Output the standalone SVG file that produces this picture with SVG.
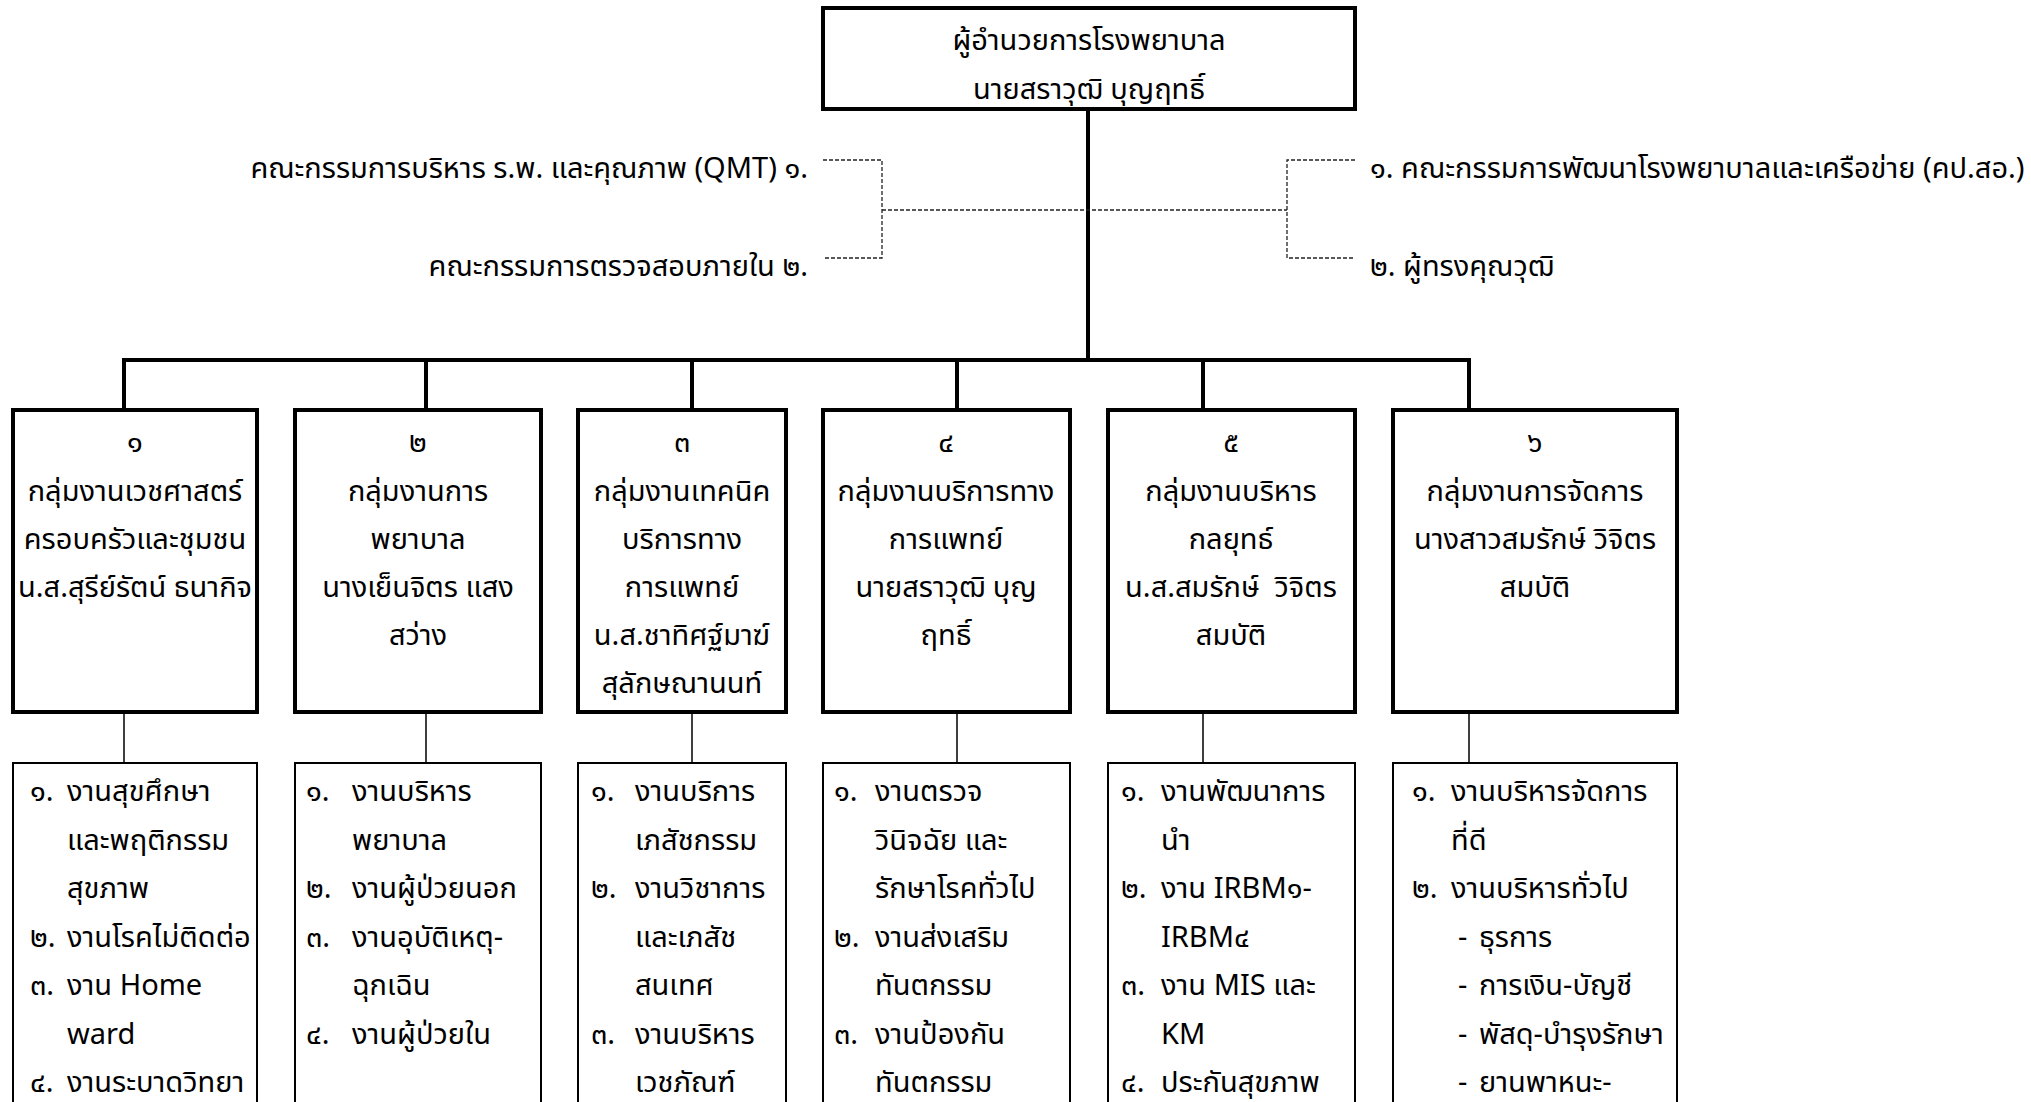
<svg xmlns="http://www.w3.org/2000/svg" width="2031" height="1102" viewBox="0 0 2031 1102">
<style>
text{font-family:"Noto Sans Thai","Leelawadee UI","Noto Sans","DejaVu Sans",sans-serif;font-size:29px;fill:#000}
.c{text-anchor:middle}
.e{text-anchor:end}
.box{fill:#fff;stroke:#000;stroke-width:4}
.sub{fill:#fff;stroke:#000;stroke-width:2}
.thick{fill:none;stroke:#000;stroke-width:4}
.thin{fill:none;stroke:#000;stroke-width:1.5}
.dash{fill:none;stroke:#222;stroke-width:1.3;stroke-dasharray:4 2}
</style>
<rect width="2031" height="1102" fill="#fff"/>
<g id="connectors">
<path class="thick" d="M1088 109V360M122 360H1471M124 360V410M426 360V410M692 360V410M957 360V410M1203 360V410M1469 360V410"/>
<path class="thin" d="M124 712V763M426 712V763M692 712V763M957 712V763M1203 712V763M1469 712V763"/>
<path class="dash" d="M823 160H882V258H823M882 210H1287M1355 160H1287V258H1355"/>
</g>
<g id="director">
<rect class="box" x="823" y="8" width="532" height="101"/>
<text class="c" x="1089" y="50">ผู้อำนวยการโรงพยาบาล</text>
<text class="c" x="1089" y="99">นายสราวุฒิ บุญฤทธิ์</text>
</g>
<g id="committee-left">
<text class="e" x="808" y="178">คณะกรรมการบริหาร ร.พ. และคุณภาพ (QMT) ๑.</text>
<text class="e" x="808" y="276">คณะกรรมการตรวจสอบภายใน ๒.</text>
</g>
<g id="committee-right">
<text x="1370" y="178">๑. คณะกรรมการพัฒนาโรงพยาบาลและเครือข่าย (คป.สอ.)</text>
<text x="1370" y="276">๒. ผู้ทรงคุณวุฒิ</text>
</g>
<g id="group1">
<rect class="box" x="13" y="410" width="244" height="302"/>
<text class="c" x="135" y="452">๑</text>
<text class="c" x="135" y="501">กลุ่มงานเวชศาสตร์</text>
<text class="c" x="135" y="549">ครอบครัวและชุมชน</text>
<text class="c" x="135" y="597">น.ส.สุรีย์รัตน์ ธนากิจ</text>
</g>
<g id="group2">
<rect class="box" x="295" y="410" width="246" height="302"/>
<text class="c" x="418" y="452">๒</text>
<text class="c" x="418" y="501">กลุ่มงานการ</text>
<text class="c" x="418" y="549">พยาบาล</text>
<text class="c" x="418" y="597">นางเย็นจิตร แสง</text>
<text class="c" x="418" y="645">สว่าง</text>
</g>
<g id="group3">
<rect class="box" x="578" y="410" width="208" height="302"/>
<text class="c" x="682" y="452">๓</text>
<text class="c" x="682" y="501">กลุ่มงานเทคนิค</text>
<text class="c" x="682" y="549">บริการทาง</text>
<text class="c" x="682" y="597">การแพทย์</text>
<text class="c" x="682" y="645">น.ส.ชาทิศฐ์มาฆ์</text>
<text class="c" x="682" y="693">สุลักษณานนท์</text>
</g>
<g id="group4">
<rect class="box" x="823" y="410" width="247" height="302"/>
<text class="c" x="946" y="452">๔</text>
<text class="c" x="946" y="501">กลุ่มงานบริการทาง</text>
<text class="c" x="946" y="549">การแพทย์</text>
<text class="c" x="946" y="597">นายสราวุฒิ บุญ</text>
<text class="c" x="946" y="645">ฤทธิ์</text>
</g>
<g id="group5">
<rect class="box" x="1108" y="410" width="247" height="302"/>
<text class="c" x="1231" y="452">๕</text>
<text class="c" x="1231" y="501">กลุ่มงานบริหาร</text>
<text class="c" x="1231" y="549">กลยุทธ์</text>
<text class="c" x="1231" y="597" xml:space="preserve">น.ส.สมรักษ์  วิจิตร</text>
<text class="c" x="1231" y="645">สมบัติ</text>
</g>
<g id="group6">
<rect class="box" x="1393" y="410" width="284" height="302"/>
<text class="c" x="1535" y="452">๖</text>
<text class="c" x="1535" y="501">กลุ่มงานการจัดการ</text>
<text class="c" x="1535" y="549">นางสาวสมรักษ์ วิจิตร</text>
<text class="c" x="1535" y="597">สมบัติ</text>
</g>
<g id="tasks1">
<rect class="sub" x="13" y="763" width="244" height="360"/>
<text x="30" y="801">๑.</text><text x="67" y="801">งานสุขศึกษา</text>
<text x="67" y="850">และพฤติกรรม</text>
<text x="67" y="898">สุขภาพ</text>
<text x="30" y="947">๒.</text><text x="67" y="947">งานโรคไม่ติดต่อ</text>
<text x="30" y="995">๓.</text><text x="67" y="995">งาน Home</text>
<text x="67" y="1044">ward</text>
<text x="30" y="1092">๔.</text><text x="67" y="1092">งานระบาดวิทยา</text>
</g>
<g id="tasks2">
<rect class="sub" x="295" y="763" width="246" height="360"/>
<text x="306" y="801">๑.</text><text x="352" y="801">งานบริหาร</text>
<text x="352" y="850">พยาบาล</text>
<text x="306" y="898">๒.</text><text x="352" y="898">งานผู้ป่วยนอก</text>
<text x="306" y="947">๓.</text><text x="352" y="947">งานอุบัติเหตุ-</text>
<text x="352" y="995">ฉุกเฉิน</text>
<text x="306" y="1044">๔.</text><text x="352" y="1044">งานผู้ป่วยใน</text>
</g>
<g id="tasks3">
<rect class="sub" x="578" y="763" width="208" height="360"/>
<text x="591" y="801">๑.</text><text x="635" y="801">งานบริการ</text>
<text x="635" y="850">เภสัชกรรม</text>
<text x="591" y="898">๒.</text><text x="635" y="898">งานวิชาการ</text>
<text x="635" y="947">และเภสัช</text>
<text x="635" y="995">สนเทศ</text>
<text x="591" y="1044">๓.</text><text x="635" y="1044">งานบริหาร</text>
<text x="635" y="1092">เวชภัณฑ์</text>
</g>
<g id="tasks4">
<rect class="sub" x="823" y="763" width="247" height="360"/>
<text x="834" y="801">๑.</text><text x="875" y="801">งานตรวจ</text>
<text x="875" y="850">วินิจฉัย และ</text>
<text x="875" y="898">รักษาโรคทั่วไป</text>
<text x="834" y="947">๒.</text><text x="875" y="947">งานส่งเสริม</text>
<text x="875" y="995">ทันตกรรม</text>
<text x="834" y="1044">๓.</text><text x="875" y="1044">งานป้องกัน</text>
<text x="875" y="1092">ทันตกรรม</text>
</g>
<g id="tasks5">
<rect class="sub" x="1108" y="763" width="247" height="360"/>
<text x="1121" y="801">๑.</text><text x="1161" y="801">งานพัฒนาการ</text>
<text x="1161" y="850">นำ</text>
<text x="1121" y="898">๒.</text><text x="1161" y="898">งาน IRBM๑-</text>
<text x="1161" y="947">IRBM๔</text>
<text x="1121" y="995">๓.</text><text x="1161" y="995">งาน MIS และ</text>
<text x="1161" y="1044">KM</text>
<text x="1121" y="1092">๔.</text><text x="1161" y="1092">ประกันสุขภาพ</text>
</g>
<g id="tasks6">
<rect class="sub" x="1393" y="763" width="284" height="360"/>
<text x="1412" y="801">๑.</text><text x="1451" y="801">งานบริหารจัดการ</text>
<text x="1451" y="850">ที่ดี</text>
<text x="1412" y="898">๒.</text><text x="1451" y="898">งานบริหารทั่วไป</text>
<text x="1458" y="947">-</text><text x="1479" y="947">ธุรการ</text>
<text x="1458" y="995">-</text><text x="1479" y="995">การเงิน-บัญชี</text>
<text x="1458" y="1044">-</text><text x="1479" y="1044">พัสดุ-บำรุงรักษา</text>
<text x="1458" y="1092">-</text><text x="1479" y="1092">ยานพาหนะ-</text>
</g>
</svg>
